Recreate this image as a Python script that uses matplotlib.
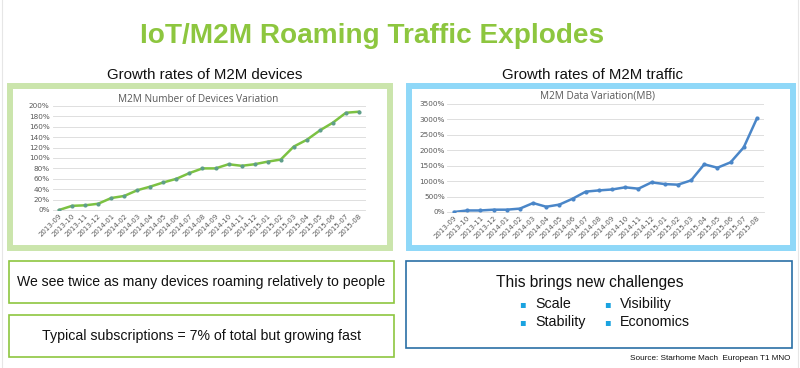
import matplotlib
matplotlib.use("Agg")
import matplotlib.pyplot as plt
from matplotlib.patches import Rectangle

# ---- data ----
months = ["2013-09", "2013-10", "2013-11", "2013-12", "2014-01", "2014-02",
          "2014-03", "2014-04", "2014-05", "2014-06", "2014-07", "2014-08",
          "2014-09", "2014-10", "2014-11", "2014-12", "2015-01", "2015-02",
          "2015-03", "2015-04", "2015-05", "2015-06", "2015-07", "2015-08"]
devices_pct = [0, 8, 9, 12, 23, 27, 38, 45, 53, 60, 71, 80,
               80, 88, 85, 88, 93, 97, 122, 135, 153, 168, 187, 189]
traffic_pct = [0, 50, 50, 75, 75, 110, 290, 170, 240, 430, 660, 700,
               730, 800, 755, 960, 905, 885, 1025, 1545, 1435, 1610, 2095, 3035]
dev_ticks = list(range(0, 201, 20))
traf_ticks = list(range(0, 3501, 500))

W, H = 800, 368
GREEN = "#8dc63f"
LIGHT_GREEN = "#cbe5ac"
LIGHT_BLUE = "#8fd8f8"
DARK_BLUE = "#2a6fa6"
BULLET = "#1aa3e0"
FONT = "Liberation Sans"

fig = plt.figure(figsize=(W / 100, H / 100), dpi=100)
fig.patch.set_facecolor("white")

# background axes in pixel coordinates for frames and text
bg = fig.add_axes([0, 0, 1, 1])
bg.set_xlim(0, W); bg.set_ylim(H, 0); bg.axis("off")


def box(x0, y0, x1, y1, color, lw):
    bg.add_patch(Rectangle((x0, y0), x1 - x0, y1 - y0, fill=False,
                           edgecolor=color, linewidth=lw))


def px_axes(x0, y0, x1, y1):
    return fig.add_axes([x0 / W, 1 - y1 / H, (x1 - x0) / W, (y1 - y0) / H])


bg.plot([2, 2], [0, H], color="#e6e6e6", lw=0.8)
bg.plot([798, 798], [0, H], color="#e6e6e6", lw=0.8)

bg.text(372, 36, "IoT/M2M Roaming Traffic Explodes", ha="center", va="center",
        fontsize=20.2, fontweight="bold", color=GREEN, family=FONT)
bg.text(205, 75, "Growth rates of M2M devices", ha="center", va="center",
        fontsize=10.8, color="#111111", family=FONT)
bg.text(593, 75, "Growth rates of M2M traffic", ha="center", va="center",
        fontsize=10.8, color="#111111", family=FONT)

box(10, 86, 389.5, 247.5, LIGHT_GREEN, 4.3)
box(409, 86, 793, 247.5, LIGHT_BLUE, 4.3)

box(9, 261, 394, 303, GREEN, 1.2)
box(9, 315, 394, 357, GREEN, 1.2)
box(406, 261, 792, 348, DARK_BLUE, 1.2)

bg.text(201, 282, "We see twice as many devices roaming relatively to people",
        ha="center", va="center", fontsize=10.1, color="#111111", family=FONT)
bg.text(202, 336, "Typical subscriptions = 7% of total but growing fast",
        ha="center", va="center", fontsize=10.2, color="#111111", family=FONT)
bg.text(590, 283, "This brings new challenges", ha="center", va="center",
        fontsize=11.2, color="#111111", family=FONT)
for (bx, by, word) in [(522, 304, "Scale"), (607, 304, "Visibility"),
                       (522, 322, "Stability"), (607, 322, "Economics")]:
    bg.text(bx, by, "\u25aa", ha="center", va="center", fontsize=7, color=BULLET)
    bg.text(bx + 13, by, word, ha="left", va="center", fontsize=10.3,
            color="#111111", family=FONT)
bg.text(790, 359, "Source: Starhome Mach  European T1 MNO", ha="right",
        va="center", fontsize=5.9, color="#111111", family=FONT)


def chart(ax, values, ticks, line_color, marker_color, title, title_xy):
    x = list(range(len(values)))
    ax.plot(x, values, color=line_color, lw=1.8, marker="o", markersize=3,
            markerfacecolor=marker_color, markeredgecolor="none", zorder=3)
    ax.set_xlim(-0.5, len(values) - 0.5)
    ax.set_ylim(ticks[0], ticks[-1])
    ax.set_yticks(ticks)
    ax.set_yticklabels([f"{t}%" for t in ticks], fontsize=5.2, color="#595959")
    ax.set_xticks(x)
    ax.set_xticklabels(months, fontsize=5, color="#595959", rotation=45,
                       ha="right", rotation_mode="anchor")
    ax.tick_params(length=0, pad=2)
    ax.grid(axis="y", color="#d9d9d9", lw=0.6)
    ax.set_axisbelow(True)
    for s in ax.spines.values():
        s.set_visible(False)
    ax.spines["bottom"].set_visible(True)
    ax.spines["bottom"].set_color("#d9d9d9")
    ax.spines["bottom"].set_linewidth(0.6)
    ax.set_facecolor("none")
    bg.text(title_xy[0], title_xy[1], title, ha="center", va="center",
            fontsize=7.2, color="#595959", family="Open Sans")


ax1 = px_axes(52.5, 106, 365.5, 210)
chart(ax1, devices_pct, dev_ticks, "#7cc242", "#5f9e8a",
      "M2M Number of Devices Variation", (198, 100))

ax2 = px_axes(447.5, 104, 763.5, 212)
chart(ax2, traffic_pct, traf_ticks, "#4a86c8", "#4a86c8",
      "M2M Data Variation(MB)", (598, 96))

fig.savefig("out.png", dpi=100, facecolor="white")
